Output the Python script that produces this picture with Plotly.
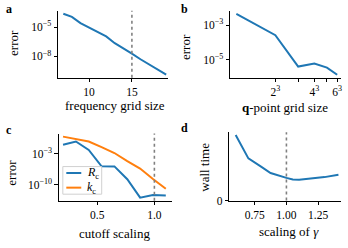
import plotly.graph_objects as go

# ---- data ----
freq_grid = [7, 8, 9, 10, 11, 12, 13, 14, 15, 16, 17, 18, 19]
freq_err = [2.3e-4, 1.1e-4, 2.5e-5, 8.7e-6, 3.5e-6, 1.1e-6, 2.2e-7, 6.9e-8,
            1.9e-8, 5.0e-9, 1.5e-9, 4.0e-10, 1.3e-10]

q_grid = [1, 8, 27, 64, 125, 216]
q_err = [4.5e-3, 2.6e-4, 3.9e-6, 5.9e-6, 3.4e-6, 1.3e-6]
q_tickvals = [8, 27, 64, 125, 216]
q_ticktext = ["2<sup>3</sup>", " ", "4<sup>3</sup>", " ", "6<sup>3</sup>"]

cutoff = [0.2, 0.3125, 0.425, 0.5375, 0.65, 0.7625, 0.875, 0.9875, 1.1]
err_Rc = [9.3e-2, 4.9e-1, 6.3e-3, 1.4e-6, 1.3e-6, 1.7e-9, 1.3e-13, 5.0e-13, 4.0e-13]
err_kc = [6.2, 1.6, 4.9e-1, 2.8e-2, 1.3e-3, 2.0e-5, 4.3e-7, 2.0e-9, 1.3e-11]

gamma_scale = [0.6, 0.7, 0.8, 0.875, 1.0, 1.05, 1.1, 1.2, 1.3, 1.41]
wall_time = [67.2, 43.2, 34.7, 28.2, 23.2, 21.5, 21.3, 22.3, 24.0, 26.5]

BLUE = "#1f77b4"
ORANGE = "#ff7f0e"
FONT = "Liberation Serif, Times New Roman, serif"
W, H = 348, 248


def px(x):
    return x / W


def py(y):
    return 1 - y / H


fig = go.Figure()
fig.add_trace(go.Scatter(x=freq_grid, y=freq_err, mode="lines",
                         line=dict(color=BLUE, width=2), xaxis="x", yaxis="y", showlegend=False))
fig.add_trace(go.Scatter(x=q_grid, y=q_err, mode="lines",
                         line=dict(color=BLUE, width=2), xaxis="x2", yaxis="y2", showlegend=False))
fig.add_trace(go.Scatter(x=cutoff, y=err_Rc, mode="lines", name="R_c",
                         line=dict(color=BLUE, width=2), xaxis="x3", yaxis="y3", showlegend=False))
fig.add_trace(go.Scatter(x=cutoff, y=err_kc, mode="lines", name="k_c",
                         line=dict(color=ORANGE, width=2), xaxis="x3", yaxis="y3", showlegend=False))
fig.add_trace(go.Scatter(x=gamma_scale, y=wall_time, mode="lines",
                         line=dict(color=BLUE, width=2), xaxis="x4", yaxis="y4", showlegend=False))

axis_common = dict(showline=True, linecolor="black", linewidth=1, ticks="outside",
                   ticklen=3.5, tickwidth=0.8, tickcolor="black", showgrid=False,
                   zeroline=False, tickfont=dict(family=FONT, size=11.5, color="black"))

fig.update_layout(
    width=W, height=H, margin=dict(l=0, r=0, t=0, b=0),
    paper_bgcolor="white", plot_bgcolor="white",
    font=dict(family=FONT, size=12, color="black"),
    xaxis=dict(domain=[px(58.3), px(168.3)], range=[6.395, 19.19],
               tickvals=[10, 15], anchor="y", **axis_common),
    yaxis=dict(domain=[py(79.8), py(10.9)], type="log", range=[-10.21, -3.32],
               tickvals=[1e-5, 1e-8], ticktext=["10<sup>−5</sup>", "10<sup>−8</sup>"],
               anchor="x", **axis_common),
    xaxis2=dict(domain=[px(230.7), px(342.3)], type="log", range=[-0.146, 2.43],
                tickvals=q_tickvals, ticktext=q_ticktext, anchor="y2", **axis_common),
    yaxis2=dict(domain=[py(79.9), py(11.1)], type="log", range=[-6.07, -2.17],
                tickvals=[1e-3, 1e-5], ticktext=["10<sup>−3</sup>", "10<sup>−5</sup>"],
                anchor="x2", **axis_common),
    xaxis3=dict(domain=[px(59), px(172)], range=[0.163, 1.15],
                tickvals=[0.5, 1.0], ticktext=["0.5", "1.0"], anchor="y3", **axis_common),
    yaxis3=dict(domain=[py(205.7), py(136.9)], type="log", range=[-13.58, 1.47],
                tickvals=[1e-3, 1e-10], ticktext=["10<sup>−3</sup>", "10<sup>−10</sup>"],
                anchor="x3", **axis_common),
    xaxis4=dict(domain=[px(230), px(341.7)], range=[0.55, 1.428],
                tickvals=[0.75, 1.0, 1.25], ticktext=["0.75", "1.00", "1.25"],
                anchor="y4", **axis_common),
    yaxis4=dict(domain=[py(205.5), py(135.5)], range=[0, 70],
                tickvals=[0], ticktext=["0"], anchor="x4", **axis_common),
)

# dotted reference lines
for xa, ya, xv in [("x", "y", 15), ("x3", "y3", 1.0), ("x4", "y4", 1.0)]:
    fig.add_shape(type="line", xref=xa, yref=ya + " domain", x0=xv, x1=xv, y0=0, y1=1,
                  line=dict(color="#808080", width=1.6, dash="dot"))

# custom legend for panel c
fig.add_shape(type="rect", xref="paper", yref="paper",
              x0=px(63), x1=px(102), y0=py(199), y1=py(170.7),
              line=dict(color="#d0d0d0", width=1), fillcolor="rgba(255,255,255,0.8)")
for yy, col in [(177.3, BLUE), (192.3, ORANGE)]:
    fig.add_shape(type="line", xref="paper", yref="paper",
                  x0=px(66.5), x1=px(81.5), y0=py(yy), y1=py(yy),
                  line=dict(color=col, width=2))

ann = []


def add_text(text, x, y, size=13, angle=0, bold=False, xanchor="center"):
    ann.append(dict(text=("<b>%s</b>" % text) if bold else text, x=px(x), y=py(y),
                    xref="paper", yref="paper", showarrow=False, xanchor=xanchor,
                    yanchor="middle", textangle=angle,
                    font=dict(family=FONT, size=size, color="black")))


add_text("<i>R</i><sub>c</sub>", 85, 177.3, size=12, xanchor="left")
add_text("<i>k</i><sub>c</sub>", 85, 192.3, size=12, xanchor="left")

add_text("a", 9, 9, size=12, bold=True)
add_text("b", 185, 9, size=12, bold=True)
add_text("c", 9, 133, size=12, bold=True)
add_text("d", 185, 131, size=12, bold=True)

add_text("frequency grid size", 115, 108)
add_text("<b>q</b>-point grid size", 285.7, 110)
add_text("cutoff scaling", 115, 239)
add_text("scaling of <i>γ</i>", 290, 237)

add_text("error", 13.5, 43.5, angle=-90)
add_text("error", 186.7, 48, angle=-90)
add_text("error", 11.5, 176.5, angle=-90)
add_text("wall time", 205, 171.5, angle=-90)

fig.update_layout(annotations=ann)
fig.write_html("out.html", config={"displayModeBar": False},
               post_script="document.body.style.margin='0';")
